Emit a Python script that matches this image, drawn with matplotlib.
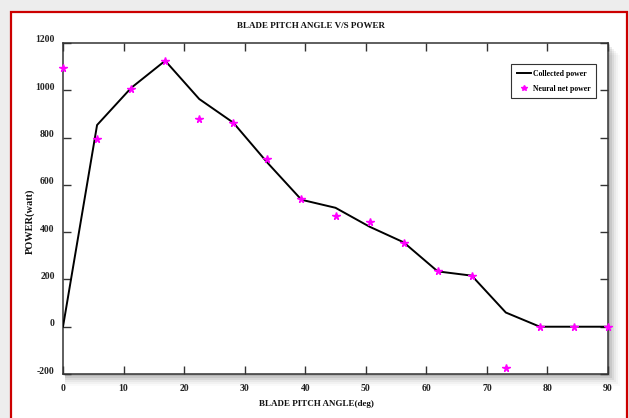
import numpy as np
import matplotlib
matplotlib.use("Agg")
import matplotlib.pyplot as plt
from matplotlib.patches import Rectangle
import matplotlib.transforms as mtrans

# blade pitch angle (deg)
angle = [0, 5.625, 11.25, 16.875, 22.5, 28.125, 33.75, 39.375, 45,
         50.625, 56.25, 61.875, 67.5, 73.125, 78.75, 84.375, 90]
# collected power (watt)
collected = [0, 853, 1010, 1125, 963, 863, 694, 537, 503,
             423, 357, 234, 216, 60, 0, 0, 0]
# neural net power (watt)
neural = [1093, 795, 1007, 1125, 879, 863, 711, 541, 469,
          441, 355, 234, 216, -173, 0, 0, 0]

xticks = [0, 10, 20, 30, 40, 50, 60, 70, 80, 90]
yticks = [-200, 0, 200, 400, 600, 800, 1000, 1200]

plt.rcParams['font.family'] = ['Liberation Serif', 'DejaVu Serif']
plt.rcParams['font.weight'] = 'bold'
plt.rcParams['axes.unicode_minus'] = False

W, H = 629, 418
fig = plt.figure(figsize=(W/100, H/100), dpi=100)
fig.patch.set_facecolor('#ededed')

# white page with red frame
fig.patches.append(Rectangle((11/W, -0.05), (616)/W, 1.05 - 12/H, transform=fig.transFigure,
                             facecolor='white', edgecolor='#cc0000', lw=1.6, zorder=-2))

l, r, t, b = 63, 608, 43, 374
pos = [l/W, 1-b/H, (r-l)/W, (b-t)/H]

# soft shadow behind plot box
for i, a in enumerate([0.10, 0.08, 0.06, 0.04, 0.03, 0.02]):
    d = 2 + i*2
    fig.patches.append(Rectangle(((l+2)/W, 1-(b+d)/H), (r-l+d-2)/W, (b-t)/H,
                                 transform=fig.transFigure, facecolor='black',
                                 alpha=a, edgecolor='none', zorder=-1))

ax = fig.add_axes(pos)
ax.set_zorder(2)
ax.set_facecolor('white')
ax.plot(angle, collected, color='black', lw=1.4, label='Collected power', zorder=3)
ax.plot(angle, neural, ls='none', marker='*', ms=5.5, color='magenta',
        mec='magenta', label='Neural net power', zorder=4, clip_on=False)

ax.set_xlim(0, 90)
ax.set_ylim(-200, 1200)
ax.set_xticks(xticks)
ax.set_yticks(yticks)
ax.tick_params(direction='in', length=6, width=1, labelsize=7, top=True, right=True,
               colors='#333333', labelcolor='#222222')
ax.tick_params(axis='x', pad=7)
ax.tick_params(axis='y', pad=6)
for lab in ax.get_yticklabels():
    lab.set_transform(lab.get_transform() + mtrans.ScaledTranslation(0, 4/100, fig.dpi_scale_trans))
for s in ax.spines.values():
    s.set_color('#333333')
    s.set_linewidth(1.1)

fig.text(311/W, 1-26/H, 'BLADE PITCH ANGLE V/S POWER', ha='center', va='center',
         fontsize=6.5, fontweight='bold', color='#111111')
fig.text(316/W, 1-404/H, 'BLADE PITCH ANGLE(deg)', ha='center', va='center',
         fontsize=6.5, fontweight='bold', color='#111111')
fig.text(30/W, 1-221/H, 'POWER(watt)', ha='center', va='center', rotation=90,
         fontsize=7.5, fontweight='bold', color='#111111')

leg = ax.legend(loc='upper right', bbox_to_anchor=(0.985, 0.947), fontsize=5.6,
                frameon=True, fancybox=False, edgecolor='#333333', framealpha=1,
                handlelength=1.8, handletextpad=0.3, borderpad=0.7, labelspacing=0.9,
                markerscale=0.8)
leg.get_frame().set_linewidth(0.8)

fig.savefig('out.png', dpi=100, facecolor=fig.get_facecolor())
